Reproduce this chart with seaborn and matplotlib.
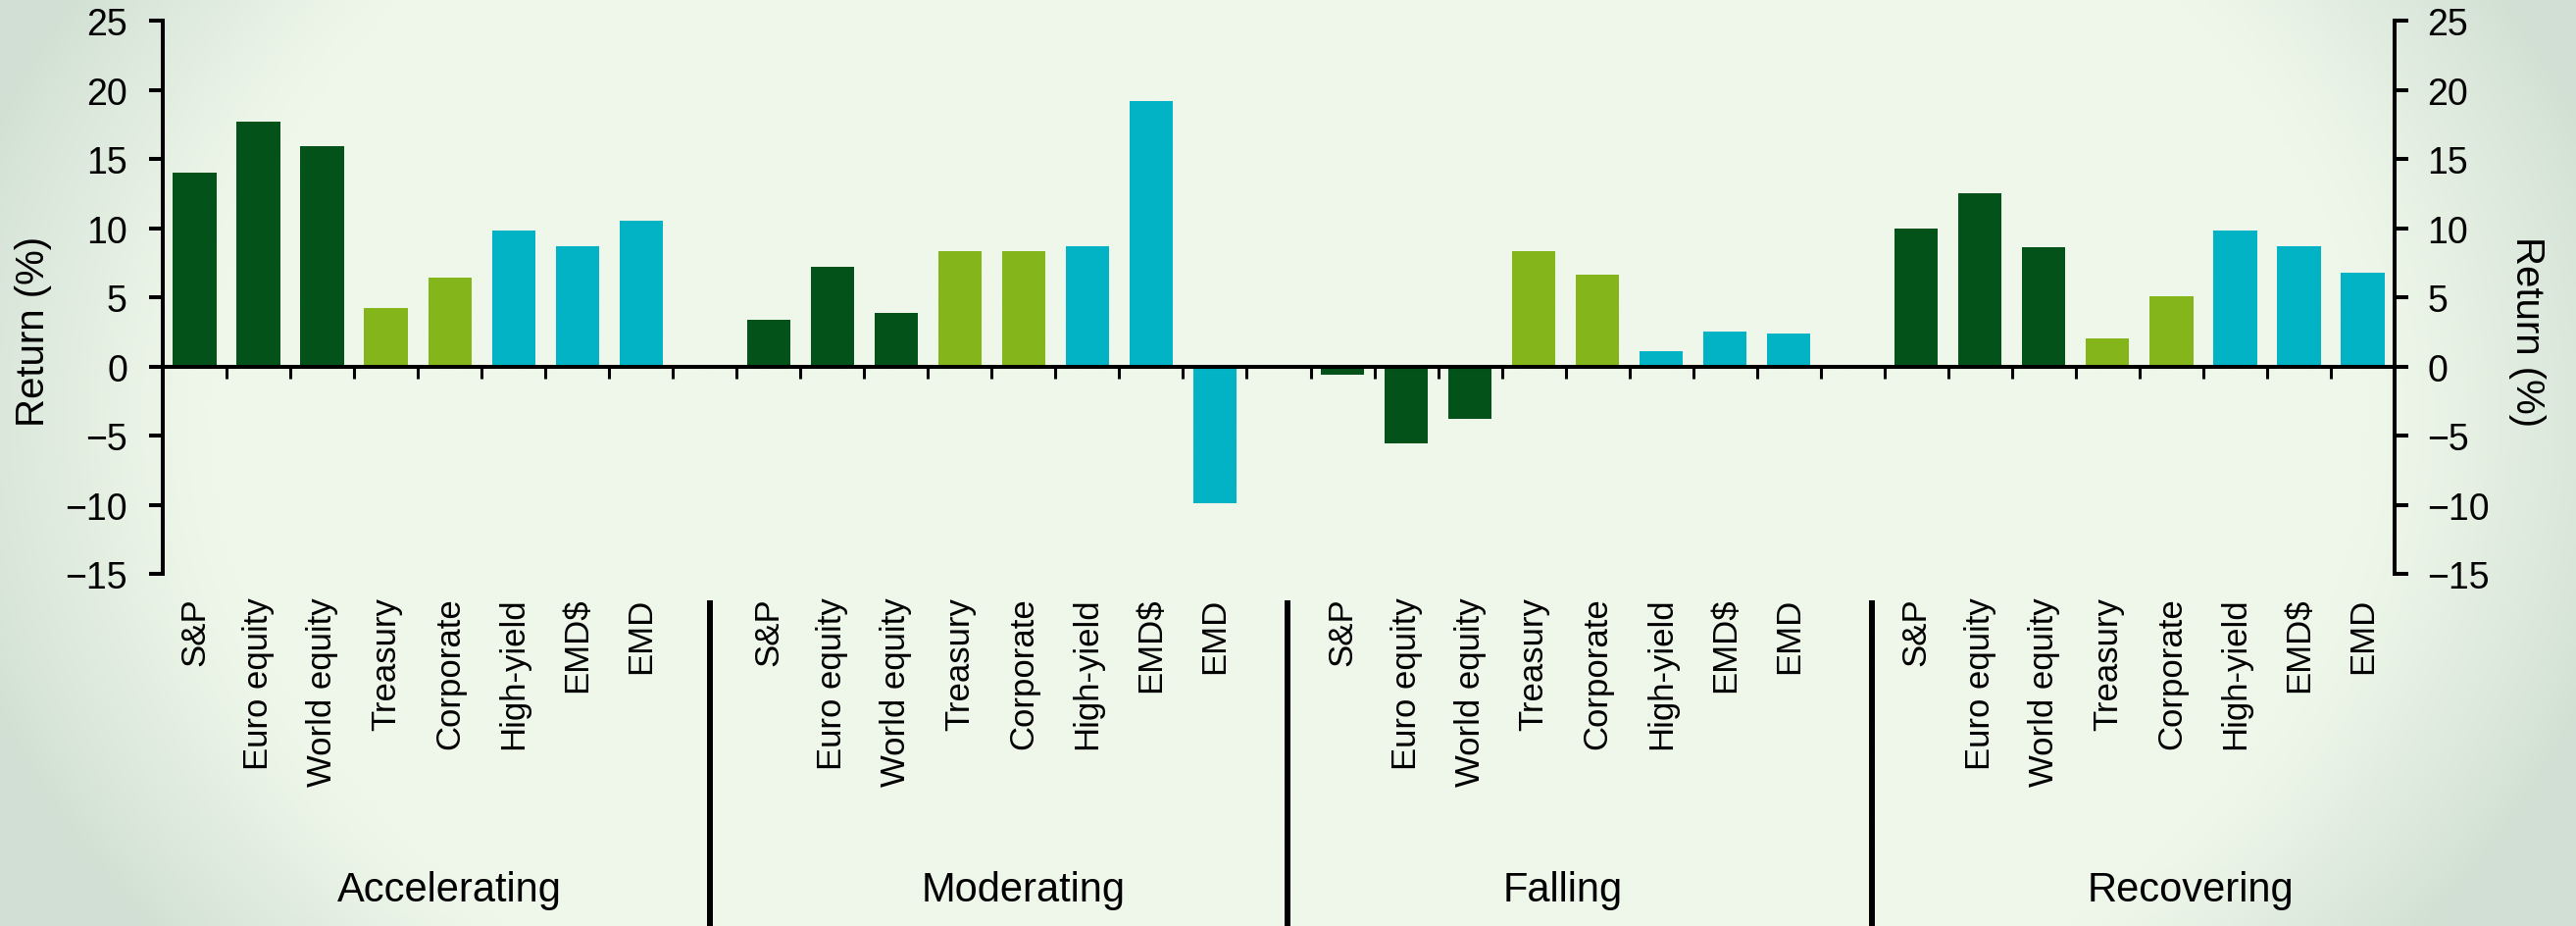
import numpy as np
import pandas as pd
import matplotlib
matplotlib.use("Agg")
import matplotlib.pyplot as plt
import seaborn as sns
from matplotlib.transforms import blended_transform_factory

# ---- data -------------------------------------------------------------
regimes = ["Accelerating", "Moderating", "Falling", "Recovering"]
assets = ["S&P", "Euro equity", "World equity", "Treasury",
          "Corporate", "High-yield", "EMD$", "EMD"]

accelerating = [14.0, 17.7, 15.9, 4.2, 6.4, 9.8, 8.7, 10.5]
moderating = [3.4, 7.2, 3.9, 8.3, 8.3, 8.7, 19.2, -9.9]
falling = [-0.6, -5.6, -3.8, 8.3, 6.6, 1.1, 2.5, 2.4]
recovering = [10.0, 12.5, 8.6, 2.0, 5.1, 9.8, 8.7, 6.8]

y_ticks = [-15, -10, -5, 0, 5, 10, 15, 20, 25]

# asset-class colours: equities, government/corporate bonds, credit/EM
palette = {
    "S&P": "#03521A", "Euro equity": "#03521A", "World equity": "#03521A",
    "Treasury": "#84B61B", "Corporate": "#84B61B",
    "High-yield": "#01B3C5", "EMD$": "#01B3C5", "EMD": "#01B3C5",
}

# ---- layout -----------------------------------------------------------
slots_per_regime = len(assets) + 1          # one empty slot between regimes
n_slots = len(regimes) * slots_per_regime - 1
separator_x = [8.08, 17.14, 26.3]           # divider lines between regimes
regime_label_x = [4.0, 13.0, 21.45, 31.3]   # centres of the regime captions

series = [accelerating, moderating, falling, recovering]
rows = []
for g, (name, vals) in enumerate(zip(regimes, series)):
    for i, (asset, v) in enumerate(zip(assets, vals)):
        rows.append({"slot": g * slots_per_regime + i, "asset": asset,
                     "regime": name, "ret": v})
df = pd.DataFrame(rows)

sns.set_theme(style="white")
plt.rcParams["font.family"] = ["Liberation Sans", "DejaVu Sans"]

W, H = 2627, 945
fig = plt.figure(figsize=(W / 100, H / 100), dpi=100)

# soft radial background
bg = fig.add_axes([0, 0, 1, 1], zorder=-10)
gx, gy = np.meshgrid(np.linspace(0, 1, 600), np.linspace(0, 1, 220))
d = np.sqrt(((gx - 0.5) / 0.5) ** 2 + ((gy - 0.45) / 0.95) ** 2)
t = np.clip((d - 0.84) / 0.22, 0, 1) ** 1.2
centre = np.array([238, 247, 234]) / 255
edge = np.array([210, 224, 212]) / 255
img = centre[None, None, :] + (edge - centre)[None, None, :] * t[..., None]
bg.imshow(img, aspect="auto", interpolation="bilinear", extent=[0, 1, 1, 0])
bg.axis("off")

ax = fig.add_axes([166 / W, 1 - 586 / H, (2442 - 166) / W, (586 - 22) / H])
ax.set_facecolor("none")

sns.barplot(data=df, x="slot", y="ret", hue="asset", hue_order=assets,
            palette=palette, saturation=1, native_scale=True, dodge=False,
            width=0.68, linewidth=0, errorbar=None, legend=False, ax=ax)

ax.set_xlim(-0.5, n_slots - 0.5)
ax.set_ylim(-15, 25)
ax.set_yticks(y_ticks)
ax.set_xlabel("")
ax.set_ylabel("Return (%)", fontsize=29, color="black", va="center")
ax.yaxis.set_label_coords(-0.058, 0.44)

lw = 2.9
for s in ["top", "right"]:
    ax.spines[s].set_visible(False)
ax.spines["left"].set_linewidth(lw)
ax.spines["left"].set_color("black")
ax.spines["bottom"].set_position(("data", 0))
ax.spines["bottom"].set_linewidth(lw)
ax.spines["bottom"].set_color("black")
ax.spines["bottom"].set_zorder(5)

# slot-boundary ticks hanging off the zero line
ax.set_xticks(np.arange(0.5, n_slots - 1, 1.0))
ax.tick_params(axis="x", which="major", direction="out", length=8.6,
               width=2.2, color="black", labelbottom=False, bottom=True)
ax.tick_params(axis="y", direction="out", length=10, width=lw,
               color="black", labelsize=27, labelcolor="black", pad=16, left=True)

# right-hand axis mirroring the left
ax2 = ax.twinx()
ax2.set_ylim(-15, 25)
ax2.set_yticks(y_ticks)
for s in ["top", "bottom", "left"]:
    ax2.spines[s].set_visible(False)
ax2.spines["right"].set_linewidth(lw)
ax2.spines["right"].set_color("black")
ax2.tick_params(axis="y", direction="out", length=10, width=lw,
                color="black", labelsize=27, labelcolor="black", pad=14, right=True)
ax2.set_ylabel("Return (%)", fontsize=29, rotation=270, color="black",
               va="center")
ax2.yaxis.set_label_coords(1.0593, 0.44)

# asset names under the plotting area
sec = ax.secondary_xaxis("bottom")
sec.set_xticks(df["slot"].tolist(), df["asset"].tolist(), rotation=90,
               fontsize=25)
sec.tick_params(length=0, pad=17, labelcolor="black")
sec.spines["bottom"].set_visible(False)

# regime dividers and captions
trans = blended_transform_factory(ax.transData, fig.transFigure)
for sx in separator_x:
    ax.plot([sx, sx], [1 - 613 / H, 0], transform=trans, color="black",
            lw=4.3, clip_on=False, solid_capstyle="butt")
for lx, name in zip(regime_label_x, regimes):
    ax.text(lx, 1 - 919 / H, name, transform=trans, ha="center",
            va="baseline", fontsize=30, color="black")

fig.savefig("out.png", dpi=100)
